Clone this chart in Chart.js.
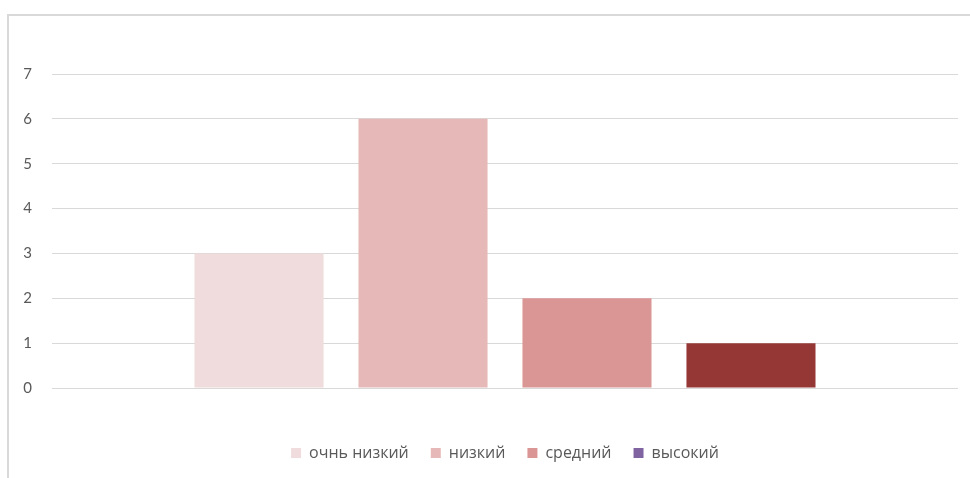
<!DOCTYPE html>
<html>
<head>
<meta charset="utf-8">
<script src="https://cdn.jsdelivr.net/npm/chart.js@4/dist/chart.umd.min.js"></script>
<style>
  html, body { margin: 0; padding: 0; background: #fff; }
  #wrap { position: relative; width: 970px; height: 478px; }
  #frame {
    position: absolute; left: 7px; top: 14px; right: 0; bottom: 0;
    border-left: 2px solid #d9d9d9; border-top: 2px solid #d9d9d9;
    pointer-events: none;
  }
  canvas { position: absolute; left: 0; top: 0; }
</style>
</head>
<body>
<div id="wrap">
  <canvas id="chart" width="970" height="478"></canvas>
  <div id="frame"></div>
</div>
<script>
// data
var categories = [''];
var seriesNames = ['очнь низкий', 'низкий', 'средний', 'высокий'];
var seriesValues = [3, 6, 2, 1];
var barColors = ['#F0DCDC', '#E6B8B7', '#DA9694', '#953735'];
var legendColors = ['#F0DCDC', '#E6B8B7', '#DA9694', '#8064A2'];
var yTicks = [0, 1, 2, 3, 4, 5, 6, 7];

var datasets = [];
for (var i = 0; i < seriesNames.length; i++) {
    datasets.push({
        label: seriesNames[i],
        data: [seriesValues[i]],
        backgroundColor: barColors[i],
        borderWidth: 0,
        barPercentage: 0.787,
        categoryPercentage: 0.724
    });
}

var ctx = document.getElementById('chart');
var chart = new Chart(ctx, {
    type: 'bar',
    data: { labels: categories, datasets: datasets },
    options: {
        responsive: false,
        animation: false,
        layout: { padding: { left: 8, right: 12, top: 74, bottom: 7 } },
        plugins: {
            tooltip: { enabled: false },
            legend: {
                position: 'bottom',
                fullSize: false,
                labels: {
                    boxWidth: 10,
                    boxHeight: 10,
                    padding: 22,
                    color: '#595959',
                    font: { family: 'Open Sans', size: 16 },
                    generateLabels: function (c) {
                        return seriesNames.map(function (name, k) {
                            return {
                                text: name,
                                fillStyle: legendColors[k],
                                strokeStyle: legendColors[k],
                                lineWidth: 0,
                                datasetIndex: k,
                                fontColor: '#595959'
                            };
                        });
                    }
                }
            }
        },
        scales: {
            x: {
                display: true,
                afterFit: function (scale) { scale.height = 35; },
                grid: { display: false },
                border: { display: false },
                ticks: { display: false }
            },
            y: {
                min: 0,
                max: 7,
                afterFit: function (scale) { scale.width = 44; },
                afterBuildTicks: function (scale) {
                    scale.ticks = yTicks.map(function (v) { return { value: v }; });
                },
                border: { display: false },
                grid: { color: '#d9d9d9', lineWidth: 1, drawTicks: false },
                ticks: {
                    padding: 20,
                    color: '#595959',
                    font: { family: 'Lato', size: 15 }
                }
            }
        }
    }
});
</script>
</body>
</html>
